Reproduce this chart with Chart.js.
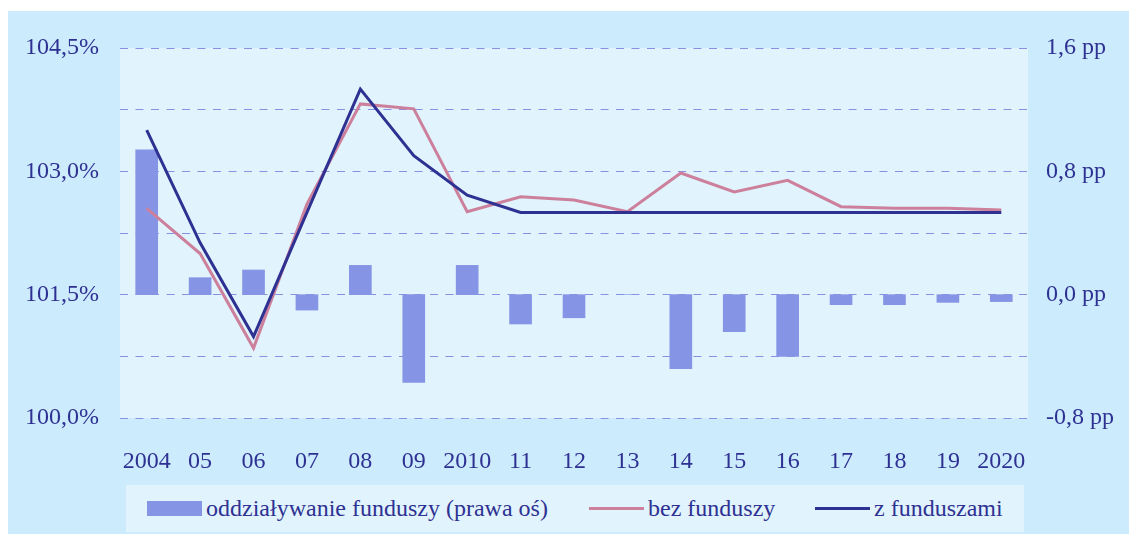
<!DOCTYPE html>
<html>
<head>
<meta charset="utf-8">
<script src="https://cdn.jsdelivr.net/npm/chart.js@4"></script>
<style>
    body { margin: 0; background: #ffffff; font-family: 'Liberation Serif', serif; }
    #panel { position: absolute; left: 8px; top: 11px; width: 1121px; height: 523px; background: #ccebfd; }
    #chart { position: absolute; left: 0; top: 0; }
    #legend { position: absolute; left: 118px; top: 474px; width: 898px; height: 47px; background: #e1f3fd; }
    .item { position: absolute; top: 0; height: 47px; display: flex; align-items: center; color: #2e3192; font-size: 24px; white-space: nowrap; }
    .swatch { display: inline-block; margin-right: 4px; }
</style>
</head>
<body>
<div id="panel">
    <canvas id="chart" width="1121" height="523"></canvas>
    <div id="legend"></div>
</div>
<script>
// ============================================================
// DATA
// ============================================================
const years = ['2004', '05', '06', '07', '08', '09', '2010', '11', '12', '13', '14', '15', '16', '17', '18', '19', '2020'];

// oddziaływanie funduszy, pp (prawa oś)
const fundsImpact = [0.94, 0.11, 0.16, -0.10, 0.19, -0.57, 0.19, -0.19, -0.15, 0.0, -0.48, -0.24, -0.40, -0.065, -0.065, -0.05, -0.045];

// bez funduszy, %
const withoutFunds = [102.55, 102.0, 100.85, 102.6, 103.82, 103.76, 102.51, 102.69, 102.65, 102.51, 102.98, 102.75, 102.89, 102.57, 102.55, 102.55, 102.53];

// z funduszami, %
const withFunds = [103.5, 102.13, 100.99, 102.5, 104.0, 103.19, 102.71, 102.5, 102.5, 102.5, 102.5, 102.5, 102.5, 102.5, 102.5, 102.5, 102.5];

const seriesLabels = ['oddziaływanie funduszy (prawa oś)', 'bez funduszy', 'z funduszami'];

const COLORS = {
    bar: '#8594e4',
    pink: '#cc809b',
    navy: '#2e3192',
    grid: '#8791e2',
    plotBg: '#e1f3fd',
    text: '#2e3192'
};

const FONT = { family: 'Liberation Serif', size: 24 };

function fmt(v, digits) {
    return (Math.round(v * 10) / 10).toFixed(digits).replace('.', ',');
}

// plot area background
const plotBackground = {
    id: 'plotBackground',
    beforeDraw: function (chart) {
        const a = chart.chartArea;
        const ctx = chart.ctx;
        ctx.save();
        ctx.fillStyle = COLORS.plotBg;
        ctx.fillRect(a.left, a.top, a.right - a.left, a.bottom - a.top);
        ctx.restore();
    }
};

const chart = new Chart(document.getElementById('chart'), {
    data: {
        labels: years,
        datasets: [
            {
                type: 'bar',
                label: seriesLabels[0],
                data: fundsImpact,
                yAxisID: 'y1',
                backgroundColor: COLORS.bar,
                barThickness: 22,
                order: 3
            },
            {
                type: 'line',
                label: seriesLabels[1],
                data: withoutFunds,
                yAxisID: 'y',
                borderColor: COLORS.pink,
                borderWidth: 3,
                pointRadius: 0,
                tension: 0,
                order: 2
            },
            {
                type: 'line',
                label: seriesLabels[2],
                data: withFunds,
                yAxisID: 'y',
                borderColor: COLORS.navy,
                borderWidth: 3,
                pointRadius: 0,
                tension: 0,
                order: 1
            }
        ]
    },
    options: {
        responsive: false,
        devicePixelRatio: 1,
        animation: false,
        layout: { padding: { top: 37, bottom: 56, left: 0, right: 0 } },
        plugins: {
            legend: { display: false },
            tooltip: { enabled: false }
        },
        scales: {
            x: {
                grid: { display: false },
                border: { display: false },
                ticks: { color: COLORS.text, font: FONT, padding: 21, autoSkip: false, maxRotation: 0 },
                afterFit: function (s) { s.height = 60; }
            },
            y: {
                position: 'left',
                min: 100,
                max: 104.5,
                ticks: {
                    stepSize: 0.75,
                    color: COLORS.text,
                    font: FONT,
                    padding: 21,
                    callback: function (v, i) { return i % 2 === 0 ? fmt(v, 1) + '%' : ''; }
                },
                grid: { color: COLORS.grid, lineWidth: 1, drawTicks: false },
                border: { display: false, dash: [8, 7.5] },
                afterFit: function (s) { s.width = 112; }
            },
            y1: {
                position: 'right',
                min: -0.8,
                max: 1.6,
                ticks: {
                    stepSize: 0.4,
                    color: COLORS.text,
                    font: FONT,
                    padding: 18,
                    callback: function (v, i) { return i % 2 === 0 ? fmt(v, 1) + ' pp' : ''; }
                },
                grid: { display: false, drawTicks: false },
                border: { display: false },
                afterFit: function (s) { s.width = 101; }
            }
        }
    },
    plugins: [plotBackground]
});

// ============================================================
// LEGEND (html)
// ============================================================
const legend = document.getElementById('legend');
const legendLeft = [21, 463, 689];
chart.data.datasets.forEach(function (ds, i) {
    const item = document.createElement('div');
    item.className = 'item';
    item.style.left = legendLeft[i] + 'px';
    const sw = document.createElement('span');
    sw.className = 'swatch';
    sw.style.width = '55px';
    if (ds.type === 'bar') {
        sw.style.height = '15px';
        sw.style.background = ds.backgroundColor;
    } else {
        sw.style.height = '3px';
        sw.style.background = ds.borderColor;
    }
    const txt = document.createElement('span');
    txt.textContent = ds.label;
    item.appendChild(sw);
    item.appendChild(txt);
    legend.appendChild(item);
});
</script>
</body>
</html>
